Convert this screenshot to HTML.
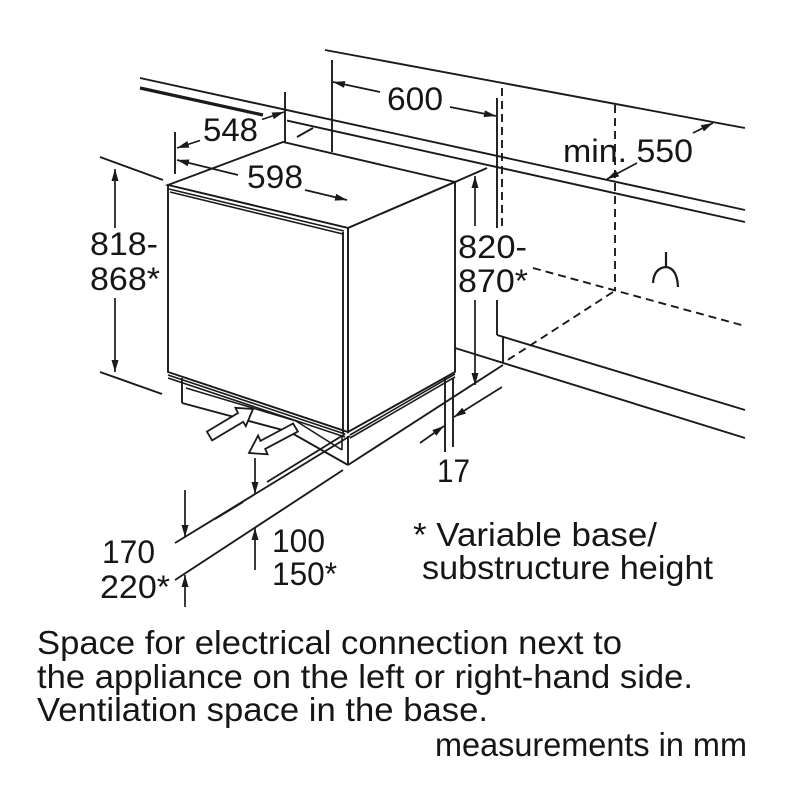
<!DOCTYPE html>
<html>
<head>
<meta charset="utf-8">
<style>
  html,body{margin:0;padding:0;background:#fff;}
  svg{display:block;}
  text{font-family:"Liberation Sans",Arial,sans-serif;fill:#161616;}
</style>
</head>
<body>
<svg width="800" height="800" viewBox="0 0 800 800" xmlns="http://www.w3.org/2000/svg">
  <defs>
    <marker id="a" viewBox="0 0 12 7" refX="12" refY="3.5" markerWidth="12" markerHeight="7" markerUnits="userSpaceOnUse" orient="auto">
      <path d="M0,0L12,3.5L0,7z" fill="#1a1a1a"/>
    </marker>
  </defs>
  <rect width="800" height="800" fill="#fff"/>

  <g stroke="#1a1a1a" stroke-width="1.9" fill="none">
    <!-- wall / worktop lines -->
    <line x1="325" y1="50" x2="745" y2="128"/>
    <line x1="140" y1="78" x2="745" y2="210"/>
    <line x1="140" y1="88" x2="263" y2="115" stroke-width="3.2"/>
    <line x1="287" y1="120.6" x2="745" y2="222"/>

    <!-- extension lines top -->
    <line x1="332" y1="60" x2="332" y2="152"/>
    <line x1="285" y1="92" x2="285" y2="142"/>
    <line x1="175" y1="132" x2="175" y2="174"/>
    <line x1="348" y1="166" x2="348" y2="228"/>
    <line x1="297" y1="137" x2="313" y2="128"/>

    <!-- right niche -->
    <line x1="497" y1="98" x2="497" y2="228"/>
    <line x1="502" y1="88" x2="502" y2="228" stroke-dasharray="8,5"/>
    <line x1="497" y1="300" x2="497" y2="335"/>
    <line x1="497" y1="335" x2="745" y2="410"/>
    <line x1="503" y1="337" x2="503" y2="363"/>
    <line x1="455" y1="348" x2="745" y2="438"/>
    <line x1="615" y1="105" x2="615" y2="290" stroke-dasharray="8,5"/>
    <line x1="533" y1="268" x2="745" y2="326" stroke-dasharray="8,5"/>
    <line x1="613" y1="292" x2="503" y2="363" stroke-dasharray="8,5"/>
    <line x1="455" y1="182" x2="487" y2="168"/>

    <!-- socket symbol -->
    <line x1="666" y1="252" x2="666" y2="268" stroke-width="2.2"/>
    <path d="M653,283 Q654,268 666,267 Q677,268 678,287" stroke-width="2.2"/>

    <!-- left extension lines -->
    <line x1="100" y1="157" x2="163" y2="180"/>
    <line x1="100" y1="372" x2="162" y2="394"/>

    <!-- floor lines -->
    <line x1="348" y1="465" x2="503" y2="365"/>
    <line x1="175" y1="543" x2="350" y2="436"/>
    <line x1="215" y1="519" x2="243" y2="502"/>
    <line x1="267" y1="482" x2="345" y2="434"/>
    <line x1="175" y1="580" x2="343" y2="470"/>

    <!-- 17 extension lines -->
    <line x1="445" y1="373" x2="445" y2="452"/>
    <line x1="453" y1="378" x2="453" y2="447"/>
  </g>

  <!-- cabinet -->
  <g stroke="#1a1a1a" stroke-width="1.9">
    <polygon points="168,185 283,142 455,182 348,228" fill="#fff"/>
    <polygon points="348,228 455,182 455,372 348,432" fill="#fff"/>
    <polygon points="168,185 348,228 348,432 168,372" fill="#fff"/>
  </g>
  <g stroke="#1a1a1a" stroke-width="1.6" fill="none">
    <line x1="169" y1="189" x2="344" y2="231"/>
    <line x1="170" y1="192" x2="343" y2="234"/>
    <line x1="343" y1="232" x2="343" y2="434" stroke-width="1.9"/>
    <line x1="168" y1="375" x2="345" y2="434"/>
    <line x1="168" y1="378" x2="345" y2="437"/>
    <line x1="350" y1="435" x2="455" y2="374"/>
    <line x1="350" y1="438" x2="455" y2="377"/>
    <!-- plinth -->
    <line x1="182" y1="378" x2="182" y2="403" stroke-width="1.9"/>
    <polyline points="182,403 290,432 348,465" stroke-width="1.9"/>
    <line x1="348" y1="436" x2="348" y2="465" stroke-width="1.9"/>
    <line x1="186" y1="388" x2="296" y2="421"/>
    <line x1="342" y1="437" x2="342" y2="450"/>
    <line x1="296" y1="421" x2="342" y2="450"/>
  </g>

  <!-- ventilation arrows -->
  <g stroke="#1a1a1a" stroke-width="1.8" fill="#fff" stroke-linejoin="miter">
    <polygon points="206.9,431.6 238,413 235.4,407.8 253,409 245.8,426.1 243.2,421.8 212.1,440.4"/>
    <polygon points="293.1,423.5 260.4,440.9 258.1,435.5 249,453 267.5,454.3 265.2,448.9 297.9,431.5"/>
  </g>

  <!-- dimension arrows -->
  <g stroke="#1a1a1a" stroke-width="1.7" fill="none" marker-end="url(#a)">
    <line x1="200" y1="140.5" x2="177" y2="148"/>
    <line x1="262" y1="119.5" x2="284" y2="112"/>
    <line x1="238" y1="175" x2="177" y2="160"/>
    <line x1="305" y1="190" x2="347" y2="200"/>
    <line x1="380" y1="92" x2="333" y2="82"/>
    <line x1="450" y1="107" x2="496" y2="116"/>
    <line x1="637" y1="163" x2="607" y2="179"/>
    <line x1="693" y1="133" x2="713" y2="123"/>
    <line x1="115" y1="228" x2="115" y2="169"/>
    <line x1="115" y1="298" x2="115" y2="372"/>
    <line x1="475" y1="226" x2="475" y2="176"/>
    <line x1="475" y1="300" x2="475" y2="385"/>
    <line x1="502" y1="387" x2="454" y2="417"/>
    <line x1="420" y1="443" x2="444" y2="426"/>
    <line x1="185" y1="490" x2="185" y2="537"/>
    <line x1="185" y1="607" x2="185" y2="575"/>
    <line x1="255" y1="458" x2="255" y2="494"/>
    <line x1="255" y1="570" x2="255" y2="528"/>
  </g>

  <!-- dimension labels -->
  <g font-size="32">
    <text x="203" y="141" textLength="55" lengthAdjust="spacingAndGlyphs">548</text>
    <text x="247" y="188" textLength="56" lengthAdjust="spacingAndGlyphs">598</text>
    <text x="387" y="110" textLength="56" lengthAdjust="spacingAndGlyphs">600</text>
    <text x="563" y="162" textLength="130" lengthAdjust="spacingAndGlyphs">min. 550</text>
    <text x="90" y="255" textLength="68" lengthAdjust="spacingAndGlyphs">818-</text>
    <text x="90" y="290" textLength="70" lengthAdjust="spacingAndGlyphs">868*</text>
    <text x="458" y="258" textLength="69" lengthAdjust="spacingAndGlyphs">820-</text>
    <text x="458" y="292" textLength="70" lengthAdjust="spacingAndGlyphs">870*</text>
    <text x="437" y="482" textLength="33" lengthAdjust="spacingAndGlyphs">17</text>
    <text x="102" y="563" textLength="53" lengthAdjust="spacingAndGlyphs">170</text>
    <text x="100" y="598" textLength="70" lengthAdjust="spacingAndGlyphs">220*</text>
    <text x="272" y="552" textLength="53" lengthAdjust="spacingAndGlyphs">100</text>
    <text x="272" y="585" textLength="65" lengthAdjust="spacingAndGlyphs">150*</text>
  </g>

  <!-- notes -->
  <g font-size="33.5">
    <text x="413" y="546" textLength="244" lengthAdjust="spacingAndGlyphs">* Variable base/</text>
    <text x="422" y="579" textLength="291" lengthAdjust="spacingAndGlyphs">substructure height</text>
    <text x="37" y="654" textLength="585" lengthAdjust="spacingAndGlyphs">Space for electrical connection next to</text>
    <text x="37" y="688" textLength="656" lengthAdjust="spacingAndGlyphs">the appliance on the left or right-hand side.</text>
    <text x="37" y="721" textLength="451" lengthAdjust="spacingAndGlyphs">Ventilation space in the base.</text>
    <text x="435" y="756" textLength="312" lengthAdjust="spacingAndGlyphs">measurements in mm</text>
  </g>
</svg>
</body>
</html>
